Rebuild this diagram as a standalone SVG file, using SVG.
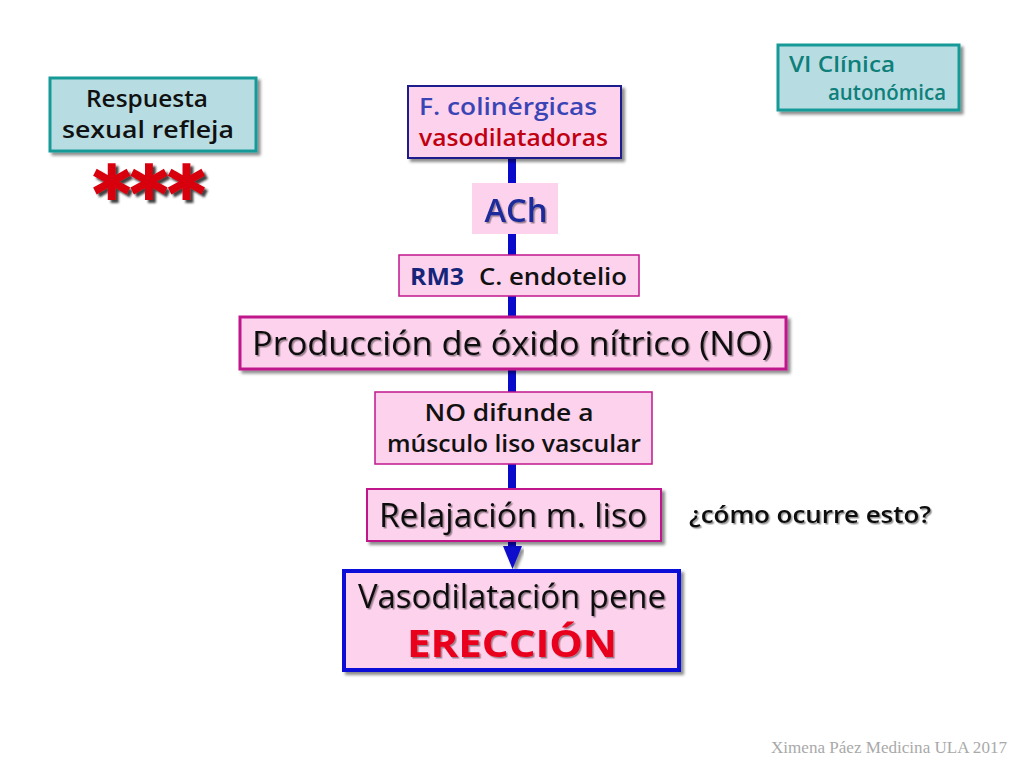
<svg xmlns="http://www.w3.org/2000/svg" width="1024" height="768" viewBox="0 0 1024 768">
<style>
text{font-family:"Open Sans","Liberation Sans",sans-serif}
.teal{fill:#b7dde3;stroke:#169a98;stroke-width:3}
.pink{fill:#fdd2ec}
.mag{stroke:#c0178c;stroke-width:1.5}
.t{font-size:24px;font-weight:600;fill:#111}
.s{font-size:21px;font-weight:600;fill:#0f7f7a}
.big{font-size:33px;font-weight:500;fill:#111}
.bar{stroke:#0a0acb;stroke-width:8;fill:none}
</style>
<defs>
<filter id="sh" x="-10%" y="-20%" width="120%" height="150%"><feDropShadow dx="3" dy="3" stdDeviation="1.5" flood-color="#000" flood-opacity="0.45"/></filter>
<filter id="ts" x="-5%" y="-20%" width="110%" height="140%"><feDropShadow dx="1.5" dy="1.5" stdDeviation="0.7" flood-color="#000" flood-opacity="0.4"/></filter>
<filter id="st" x="-10%" y="-20%" width="120%" height="150%"><feDropShadow dx="3" dy="3" stdDeviation="0.8" flood-color="#222" flood-opacity="0.85"/></filter>
</defs>
<rect width="1024" height="768" fill="#fff"/>
<g id="connectors">
<path class="bar" d="M512 158V546"/>
<polygon points="503,546 522,546 512.500,569" fill="#0a0acb" filter="url(#sh)"/>
</g>
<g id="respuesta">
<rect class="teal" x="50" y="78" width="206" height="73" filter="url(#sh)"/>
<text class="t" x="147" y="107" text-anchor="middle" textLength="122" lengthAdjust="spacingAndGlyphs">Respuesta</text>
<text class="t" x="148" y="138" text-anchor="middle" textLength="172" lengthAdjust="spacingAndGlyphs">sexual refleja</text>
</g>
<g id="stars">
<text x="149" y="220" text-anchor="middle" font-size="74" font-weight="700" fill="#d8000f" stroke="#d8000f" stroke-width="2" filter="url(#st)" style="font-family:'DejaVu Sans',sans-serif" textLength="112" lengthAdjust="spacingAndGlyphs">***</text>
</g>
<g id="clinica">
<rect class="teal" x="778" y="45" width="181" height="65" filter="url(#sh)"/>
<text class="s" x="789" y="72" textLength="106" lengthAdjust="spacingAndGlyphs">VI Clínica</text>
<text class="s" x="828" y="100" textLength="118" lengthAdjust="spacingAndGlyphs">autonómica</text>
</g>
<g id="colinergicas">
<rect x="408" y="86" width="213" height="72" class="pink" stroke="#1c1c8c" stroke-width="2" filter="url(#sh)"/>
<text class="t" x="419" y="115" style="fill:#3a45b5" textLength="178" lengthAdjust="spacingAndGlyphs">F. colinérgicas</text>
<text class="t" x="419" y="146" style="fill:#c00010" textLength="189" lengthAdjust="spacingAndGlyphs">vasodilatadoras</text>
</g>
<g id="ach">
<rect x="472" y="183" width="86" height="51" class="pink"/>
<text x="516" y="222" text-anchor="middle" font-size="33" font-weight="600" fill="#1a2a9a" filter="url(#ts)" textLength="63" lengthAdjust="spacingAndGlyphs">ACh</text>
</g>
<g id="rm3">
<rect x="399" y="255" width="240" height="41" class="pink mag"/>
<text class="t" x="410" y="285" style="fill:#15257a;font-weight:700" textLength="54" lengthAdjust="spacingAndGlyphs">RM3</text>
<text class="t" x="479" y="285" textLength="148" lengthAdjust="spacingAndGlyphs">C. endotelio</text>
</g>
<g id="produccion">
<rect x="240" y="317" width="546" height="52" class="pink" stroke="#c0178c" stroke-width="3" filter="url(#sh)"/>
<text class="big" x="252" y="355" filter="url(#ts)" textLength="520" lengthAdjust="spacingAndGlyphs">Producción de óxido nítrico (NO)</text>
</g>
<g id="difunde">
<rect x="375" y="392" width="277" height="72" class="pink mag"/>
<text class="t" x="509" y="421" text-anchor="middle" textLength="169" lengthAdjust="spacingAndGlyphs">NO difunde a</text>
<text class="t" x="514" y="452" text-anchor="middle" textLength="254" lengthAdjust="spacingAndGlyphs">músculo liso vascular</text>
</g>
<g id="relajacion">
<rect x="367" y="489" width="294" height="52" class="pink mag" style="stroke-width:2" filter="url(#sh)"/>
<text class="big" x="379" y="527" filter="url(#ts)" textLength="268" lengthAdjust="spacingAndGlyphs">Relajación m. liso</text>
</g>
<g id="pregunta">
<text class="t" x="689" y="523" filter="url(#ts)" textLength="242" lengthAdjust="spacingAndGlyphs">¿cómo ocurre esto?</text>
</g>
<g id="vasodilatacion">
<rect x="344" y="571" width="335" height="99" class="pink" stroke="#0a0ad8" stroke-width="4" filter="url(#sh)"/>
<text class="big" x="358" y="608" filter="url(#ts)" textLength="308" lengthAdjust="spacingAndGlyphs">Vasodilatación pene</text>
<text x="407" y="657" font-size="37" font-weight="700" fill="#e8001c" filter="url(#ts)" textLength="210" lengthAdjust="spacingAndGlyphs">ERECCIÓN</text>
</g>
<g id="credito">
<text x="1007" y="753" text-anchor="end" font-size="16" fill="#a9a9a9" style="font-family:'Liberation Serif',serif" textLength="236" lengthAdjust="spacingAndGlyphs">Ximena Páez Medicina ULA 2017</text>
</g>
</svg>
